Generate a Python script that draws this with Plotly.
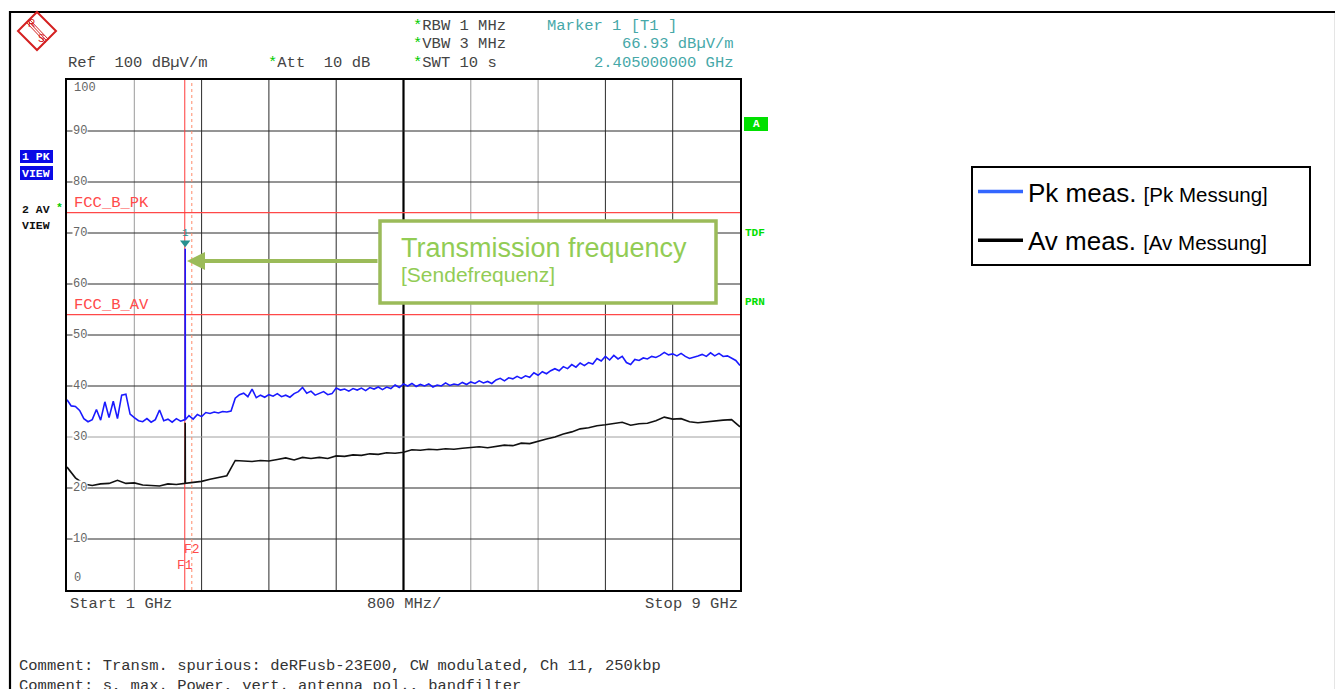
import plotly.graph_objects as go

# ---------------- data ----------------
start_ghz = 1.0
stop_ghz = 9.0
pk_step_ghz = 0.05
av_step_ghz = 0.1

# Peak detector trace (dBuV/m), sweep 1..9 GHz in 50 MHz steps
pk_level = [
    37.3, 36.1, 36.0, 35.2, 33.6, 33.0, 33.4, 35.4, 33.3, 36.9,
    33.8, 37.0, 33.6, 38.2, 38.4, 34.5, 33.8, 33.2, 33.0, 33.6,
    32.9, 33.4, 35.3, 33.2, 33.5, 32.9, 33.6, 33.1, 33.4, 34.2,
    33.5, 34.4, 34.0, 34.8, 34.6, 34.9, 34.7, 35.0, 34.9, 35.1,
    37.6, 38.3, 38.6, 37.9, 39.4, 37.7, 38.2, 37.8, 38.3, 38.0,
    38.5, 37.9, 38.2, 37.8, 38.5, 38.9, 39.7, 38.6, 39.0, 38.2,
    38.6, 38.9, 38.3, 38.5, 39.6, 39.2, 39.4, 39.0, 39.5, 39.2,
    39.6, 39.1, 39.7, 39.4, 39.8, 39.3, 39.8, 39.5, 40.2, 39.7,
    40.4, 40.0, 40.5, 39.9, 40.3, 40.0, 40.4, 39.8, 40.2, 40.0,
    40.6, 40.1, 40.4, 40.2, 40.7, 40.3, 40.8, 40.5, 41.0, 40.6,
    40.9, 40.5, 41.2, 41.5, 41.0, 41.6, 41.4, 41.9, 41.5, 42.0,
    41.7, 42.6, 42.1, 42.8, 42.4, 43.0, 43.4, 43.0, 43.8, 43.4,
    44.2, 43.7, 44.5, 44.0, 44.6, 44.3, 45.4, 44.9, 45.8, 45.1,
    46.0, 45.3, 45.8, 44.6, 44.2, 45.2, 45.0, 45.5, 45.3, 45.8,
    45.6, 46.0, 46.6, 46.1, 46.3, 45.9, 46.4, 45.8, 45.4, 45.6,
    45.9, 46.2, 45.8, 46.5, 45.9, 46.4, 45.8, 45.9, 45.4, 45.0,
    44.0,
]

# Average detector trace (dBuV/m), 100 MHz steps
av_level = [
    24.1, 22.0, 20.8, 20.5, 20.8, 20.9, 21.5, 20.9, 21.0, 20.6,
    20.5, 20.4, 20.8, 20.7, 20.9, 21.1, 21.3, 21.7, 22.1, 22.4,
    25.4, 25.3, 25.2, 25.4, 25.3, 25.6, 25.9, 25.5, 26.0, 25.8,
    26.0, 25.8, 26.3, 26.2, 26.5, 26.4, 26.7, 26.6, 26.9, 26.8,
    27.0, 27.5, 27.4, 27.6, 27.5, 27.7, 27.6, 27.8, 27.9, 28.1,
    27.9, 28.2, 28.4, 28.3, 28.8, 28.7, 29.2, 29.6, 30.0, 30.6,
    31.0, 31.6, 31.8, 32.2, 32.4, 32.7, 32.9, 32.3, 32.6, 32.7,
    33.2, 33.9, 33.5, 33.6, 33.0, 32.8, 33.0, 33.1, 33.3, 33.4,
    32.0,
]

marker_freq_ghz = 2.405
marker_pk_level = 66.93
marker_av_level = 32.8

limit_pk = 74.0
limit_av = 54.0
f1_ghz = 2.4
f2_ghz = 2.4835
y_ticks = [0, 10, 20, 30, 40, 50, 60, 70, 80, 90, 100]
x_divisions = [1.0, 1.8, 2.6, 3.4, 4.2, 5.0, 5.8, 6.6, 7.4, 8.2, 9.0]

# ---------------- helpers ----------------
PAGE_W, PAGE_H = 1343, 689
OFF = 8                      # default body margin of the html page
W, H = PAGE_W - OFF, PAGE_H - OFF
L, R, T, B = 67, 740, 80, 590   # plot area in page pixels
MONO = "Liberation Mono"
SANS = "Liberation Sans"


def xp(px):
    return (px - L) / (R - L)


def yp(py):
    return (B - py) / (B - T)


def with_spike(freqs, levels, f0, peak):
    i = max(k for k, f in enumerate(freqs) if f <= f0)
    xs = freqs[:i + 1] + [f0 - 0.002, f0, f0 + 0.002] + freqs[i + 1:]
    ys = levels[:i + 1] + [levels[i], peak, levels[i]] + levels[i + 1:]
    return xs, ys


pk_freq = [round(start_ghz + k * pk_step_ghz, 4) for k in range(len(pk_level))]
av_freq = [round(start_ghz + k * av_step_ghz, 4) for k in range(len(av_level))]
pk_x, pk_y = with_spike(pk_freq, pk_level, marker_freq_ghz, marker_pk_level)
av_x, av_y = with_spike(av_freq, av_level, marker_freq_ghz, marker_av_level)

fig = go.Figure()

fig.add_trace(go.Scatter(x=pk_x, y=pk_y, mode="lines", line=dict(color="#1a1aff", width=1.6),
                         showlegend=False, hoverinfo="skip"))
fig.add_trace(go.Scatter(x=av_x, y=av_y, mode="lines", line=dict(color="#111111", width=1.6),
                         showlegend=False, hoverinfo="skip"))
# marker
fig.add_trace(go.Scatter(x=[marker_freq_ghz], y=[68.1], mode="markers",
                         marker=dict(symbol="triangle-down", size=9, color="#2a9090"),
                         showlegend=False, hoverinfo="skip"))
# legend entries
PADS = "\u00a0" * 5
fig.add_trace(go.Scatter(x=[None], y=[None], mode="lines", line=dict(color="#3366ff", width=3.5),
                         name=f"Pk meas. <span style='font-size:20.5px'>[Pk Messung]</span>{PADS}",
                         legendgroup="pk"))
fig.add_trace(go.Scatter(x=[None], y=[None], mode="lines", line=dict(color="#000000", width=3.5),
                         name=f"Av meas. <span style='font-size:20.5px'>[Av Messung]</span>{PADS}",
                         legendgroup="av"))

shapes = []
# grid
grey_v = {1, 6, 7}
for k, f in enumerate(x_divisions[1:-1], start=1):
    if k == 5:
        shapes.append(dict(type="line", xref="x", yref="paper", x0=f, x1=f, y0=0, y1=1,
                           line=dict(color="#000000", width=2.2), layer="below"))
    else:
        shapes.append(dict(type="line", xref="x", yref="paper", x0=f, x1=f, y0=0, y1=1,
                           line=dict(color="#9a9a9a" if k in grey_v else "#2a2a2a", width=1), layer="below"))
for v in y_ticks[1:-1]:
    shapes.append(dict(type="line", xref="paper", yref="y", x0=0, x1=1, y0=v, y1=v,
                       line=dict(color="#a0a0a0" if v == 30 else "#2a2a2a", width=1), layer="below"))
# limit lines
for v in (limit_pk, limit_av):
    shapes.append(dict(type="line", xref="paper", yref="y", x0=0, x1=1, y0=v, y1=v,
                       line=dict(color="#ff4848", width=1.2), layer="below"))
# F1 / F2
shapes.append(dict(type="line", xref="x", yref="paper", x0=f1_ghz, x1=f1_ghz, y0=0, y1=1,
                   line=dict(color="#ff3a3a", width=1), layer="below"))
shapes.append(dict(type="line", xref="x", yref="paper", x0=f2_ghz, x1=f2_ghz, y0=0, y1=1,
                   line=dict(color="#ff8a6a", width=1, dash="dot"), layer="below"))

# outer frame
shapes.append(dict(type="path", xref="paper", yref="paper",
                   path=f"M {xp(10)} {yp(760)} L {xp(10)} {yp(12)} L {xp(1336)} {yp(12)} L {xp(1336)} {yp(760)}",
                   line=dict(color="#000000", width=2.2)))

# R&S logo
cx, cy, rr = 37, 31, 19
shapes.append(dict(type="path", xref="paper", yref="paper",
                   path=f"M {xp(cx)} {yp(cy-rr)} L {xp(cx+rr)} {yp(cy)} L {xp(cx)} {yp(cy+rr)} L {xp(cx-rr)} {yp(cy)} Z",
                   line=dict(color="#d42020", width=2)))
for d in (-1.5, 0, 1.5):
    shapes.append(dict(type="line", xref="paper", yref="paper",
                       x0=xp(28 + d), y0=yp(21 - d), x1=xp(47 + d), y1=yp(41 - d),
                       line=dict(color="#d42020", width=1)))

# blue status boxes
for y0, y1 in ((150, 163), (166, 180)):
    shapes.append(dict(type="rect", xref="paper", yref="paper", x0=xp(20), x1=xp(53), y0=yp(y1), y1=yp(y0),
                       fillcolor="#0a0ae6", line=dict(width=0)))
# green "A" box
shapes.append(dict(type="rect", xref="paper", yref="paper", x0=xp(744), x1=xp(768), y0=yp(131), y1=yp(117),
                   fillcolor="#00e000", line=dict(width=0)))

# annotation box
shapes.append(dict(type="rect", xref="paper", yref="paper", x0=xp(380), x1=xp(716), y0=yp(303), y1=yp(221),
                   fillcolor="#ffffff", line=dict(color="#9bbb59", width=3.5)))

annotations = []


def txt(px, py, s, size=15.5, color="#444444", anchor="left", family=MONO, bg=None, yanchor="middle"):
    d = dict(xref="paper", yref="paper", x=xp(px), y=yp(py), text=s, showarrow=False,
             xanchor=anchor, yanchor=yanchor, font=dict(family=family, size=size, color=color),
             borderpad=0, align="left")
    if bg:
        d["bgcolor"] = bg
    annotations.append(d)


G = "<span style='color:#00cc00'>*</span>"
NB = "\u00a0"
txt(67, 63, f"Ref{NB}{NB}100{NB}dBµV/m")
txt(267, 63, f"{G}Att{NB}{NB}10{NB}dB")
txt(412, 26, f"{G}RBW{NB}1{NB}MHz")
txt(412, 44, f"{G}VBW{NB}3{NB}MHz")
txt(412, 63, f"{G}SWT{NB}10{NB}s")
TEAL = "#46a8a8"
txt(546, 26, f"Marker{NB}1{NB}[T1{NB}]", color=TEAL)
txt(735, 44, f"{marker_pk_level:.2f}{NB}dBµV/m", color=TEAL, anchor="right")
txt(735, 63, f"{marker_freq_ghz:.9f}{NB}GHz", color=TEAL, anchor="right")

txt(69, 604, f"Start{NB}{start_ghz:g}{NB}GHz")
txt(404, 604, f"800{NB}MHz/", anchor="center")
txt(739, 604, f"Stop{NB}{stop_ghz:g}{NB}GHz", anchor="right")

comment_1 = f"Comment:{NB}Transm.{NB}spurious:{NB}deRFusb-23E00,{NB}CW{NB}modulated,{NB}Ch{NB}11,{NB}250kbp"
comment_2 = f"Comment:{NB}s,{NB}max.{NB}Power,{NB}vert.{NB}antenna{NB}pol.,{NB}bandfilter"
txt(18, 656, f"{comment_1}<br>{comment_2}", color="#333333", yanchor="top")

# y tick labels inside plot
for v in y_ticks:
    if v == 100:
        txt(73, 88, str(v), size=12, color="#666666")
    elif v == 0:
        txt(73, 578, str(v), size=12, color="#666666")
    else:
        annotations.append(dict(xref="paper", yref="y", x=xp(72), y=v, text=str(v), showarrow=False,
                                xanchor="left", yanchor="middle", bgcolor="#ffffff", borderpad=0,
                                font=dict(family=MONO, size=12, color="#666666")))

# limit line labels
RED = "#ff4a4a"
txt(73, 203, "FCC_B_PK", color=RED)
txt(73, 305, "FCC_B_AV", color=RED)
txt(183, 549, "F2", size=13, color=RED)
txt(176, 565, "F1", size=13, color=RED)
txt(185, 233, "1", size=11, color="#2a9090", anchor="center")

# R&S letters
txt(31, 24, "R", size=10, color="#d42020", anchor="center", family=SANS)
txt(41, 38, "S", size=10, color="#d42020", anchor="center", family=SANS)

# left status labels
txt(21, 156.5, f"<b>1{NB}PK</b>", size=11.5, color="#ffffff")
txt(21, 173, "<b>VIEW</b>", size=11.5, color="#ffffff")
txt(21, 209, f"<b>2{NB}AV</b>", size=11.5, color="#111111")
txt(55, 207, "<b>*</b>", size=11.5, color="#00cc00")
txt(21, 225, "<b>VIEW</b>", size=11.5, color="#111111")
# right status labels
txt(756, 124, "<b>A</b>", size=11, color="#ffffff", anchor="center")
txt(744, 233, "<b>TDF</b>", size=11, color="#00dd00")
txt(744, 302, "<b>PRN</b>", size=11, color="#00dd00")

# callout
txt(400, 248, "Transmission frequency", size=27, color="#92cc55", family=SANS)
txt(400, 274, "[Sendefrequenz]", size=21, color="#92cc55", family=SANS)
annotations.append(dict(xref="paper", yref="paper", x=xp(187), y=yp(261), ax=379 - 187, ay=0,
                        axref="pixel", ayref="pixel", text="", showarrow=True, arrowhead=2,
                        arrowsize=0.9, arrowwidth=4, arrowcolor="#9bbb59", standoff=0))

fig.update_layout(
    width=W, height=H,
    margin=dict(l=L - OFF, r=PAGE_W - R, t=T - OFF, b=PAGE_H - B, pad=0),
    paper_bgcolor="#ffffff", plot_bgcolor="#ffffff",
    xaxis=dict(range=[start_ghz, stop_ghz], showgrid=False, zeroline=False, showticklabels=False,
               ticks="", showline=True, mirror=True, linecolor="#000000", linewidth=2.2),
    yaxis=dict(range=[0, 100], showgrid=False, zeroline=False, showticklabels=False,
               ticks="", showline=True, mirror=True, linecolor="#000000", linewidth=2.2),
    shapes=shapes, annotations=annotations,
    showlegend=True,
    legend=dict(x=xp(971), y=yp(166), xanchor="left", yanchor="top",
                bordercolor="#000000", borderwidth=2, bgcolor="#ffffff",
                font=dict(family=SANS, size=26, color="#000000"),
                traceorder="grouped", tracegroupgap=12, itemwidth=45),
)

fig.write_html("out.html")
